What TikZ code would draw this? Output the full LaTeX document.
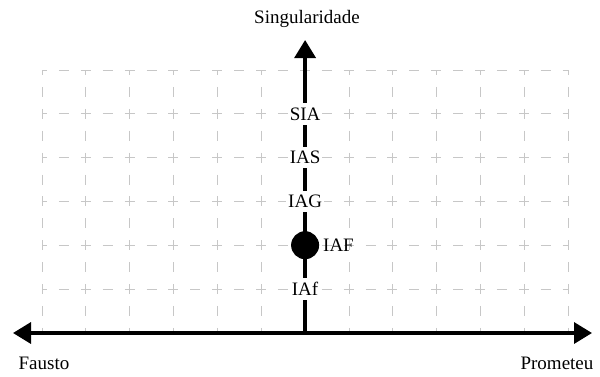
\documentclass[tikz,border=0pt]{standalone}
\usepackage{fontspec}
\setmainfont{Liberation Serif}
\usetikzlibrary{arrows.meta}
\begin{document}
\begin{tikzpicture}[x=1pt,y=-1pt,
  gridline/.style={draw=black!22, line width=0.9pt, dash pattern=on 10pt off 11.9pt, dash phase=5pt},
  axisline/.style={line width=3.4pt},
  lbl/.style={font=\fontsize{19}{22}\selectfont, fill=white, inner xsep=2pt, inner ysep=4.5pt},
  txt/.style={font=\fontsize{19}{22}\selectfont, inner sep=0pt}
]
\useasboundingbox (0,0) rectangle (600,376);
% grid
\foreach \i in {0,...,12}
  \draw[gridline] ({42+43.85*\i},70) -- ({42+43.85*\i},333);
\foreach \j in {0,...,5}
  \draw[gridline] (42,{70+43.8*\j}) -- (568.2,{70+43.8*\j});
% axes
\coordinate (L) at (13,333);
\coordinate (R) at (592,333);
\coordinate (O) at (305.1,333);
\coordinate (T) at (305.1,40);
\draw[axisline, {Triangle[length=18pt,width=21pt]}-{Triangle[length=18pt,width=21pt]}] (L) -- (R);
\draw[axisline, -{Triangle[length=18pt,width=21pt]}] (O) -- (T);
% labels on vertical axis
\node[lbl] (sia) at (305.1,113.8) {SIA};
\node[lbl] (ias) at (305.1,157.6) {IAS};
\node[lbl] (iag) at (305.1,201.4) {IAG};
\node[circle, fill=black, minimum size=28pt, inner sep=0pt] (dot) at (305.1,245.2) {};
\node[txt, anchor=west] (iaf) at (323,245.2) {IAF};
\node[lbl] (iaf2) at (305.1,289) {IAf};
% end labels
\node[txt] (sing) at (307,19) {Singularidade};
\node[txt] (fausto) at (44,363) {Fausto};
\node[txt] (prometeu) at (557,363) {Prometeu};
\end{tikzpicture}
\end{document}
